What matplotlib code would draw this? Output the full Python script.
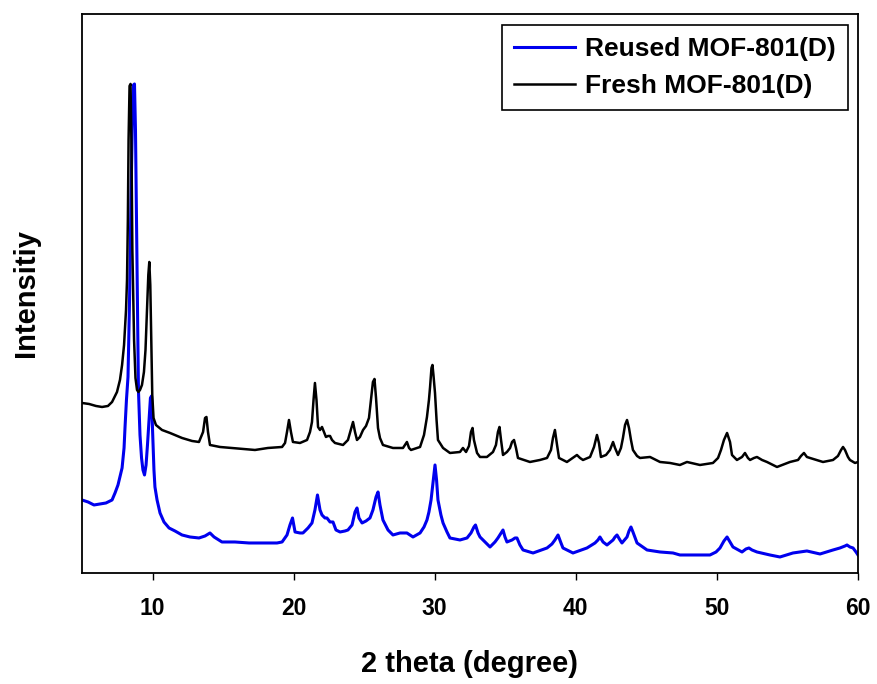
import matplotlib
matplotlib.use("Agg")
import matplotlib.pyplot as plt

plt.rcParams['font.family'] = ['Liberation Sans', 'DejaVu Sans']
plt.rcParams['font.weight'] = 'bold'

# Fresh MOF-801(D): 2-theta (degree) and stacked intensity (a.u.)
fresh_2theta = [5.00, 5.50, 5.99, 6.42, 6.84, 7.13, 7.48, 7.69, 7.84, 7.98, 8.12, 8.19, 8.25, 8.30,
                8.37, 8.44, 8.50, 8.57, 8.69, 8.79, 8.90, 9.00, 9.11, 9.25, 9.39, 9.50, 9.61, 9.70,
                9.77, 9.84, 9.91, 9.98, 10.07, 10.24, 10.67, 11.24, 12.09, 12.80, 13.29, 13.58,
                13.72, 13.82, 13.93, 14.07, 14.78, 15.63, 16.55, 17.26, 18.18, 19.18, 19.39, 19.53,
                19.67, 19.81, 19.95, 20.45, 20.95, 21.16, 21.30, 21.41, 21.51, 21.62, 21.73, 21.87,
                22.01, 22.15, 22.29, 22.44, 22.58, 22.72, 22.93, 23.50, 23.85, 23.99, 24.21, 24.35,
                24.49, 24.70, 24.92, 25.13, 25.34, 25.48, 25.62, 25.73, 25.84, 25.98, 26.12, 26.33,
                27.04, 27.75, 27.89, 28.03, 28.18, 28.32, 28.96, 29.24, 29.45, 29.59, 29.67, 29.77,
                29.84, 29.91, 30.02, 30.13, 30.23, 30.59, 31.08, 31.79, 32.00, 32.22, 32.43, 32.57,
                32.68, 32.78, 33.00, 33.21, 33.70, 34.13, 34.34, 34.48, 34.59, 34.70, 34.84, 35.12,
                35.34, 35.48, 35.62, 35.76, 35.90, 36.75, 37.46, 37.96, 38.24, 38.38, 38.52, 38.67,
                38.81, 39.37, 39.87, 40.08, 40.30, 40.51, 41.01, 41.29, 41.50, 41.64, 41.78, 42.14,
                42.42, 42.64, 42.78, 42.99, 43.20, 43.34, 43.49, 43.63, 43.77, 43.91, 44.05, 44.34,
                44.55, 45.26, 45.97, 46.68, 47.38, 47.88, 48.80, 49.72, 50.08, 50.29, 50.50, 50.72,
                50.93, 51.07, 51.42, 51.78, 51.99, 52.20, 52.35, 52.63, 52.84, 53.20, 53.55, 54.26,
                55.18, 55.75, 55.96, 56.17, 56.38, 56.60, 57.52, 58.23, 58.58, 58.80, 58.94, 59.08,
                59.29, 59.43, 59.79, 60.00]
fresh_intensity = [170, 169, 167, 166, 167, 171, 181, 193, 208, 228, 263, 293, 353, 433,
                   487, 489, 433, 323, 233, 195, 183, 181, 183, 188, 201, 223, 263, 298,
                   311, 288, 233, 178, 155, 148, 143, 140, 135, 132, 131, 141,
                   155, 156, 141, 128, 126, 125, 124, 123, 125, 126, 130, 141,
                   153, 141, 131, 130, 133, 141, 151, 173, 190, 173, 146, 143,
                   146, 141, 136, 137, 137, 133, 130, 128, 133, 140, 151, 141,
                   133, 136, 143, 147, 155, 173, 191, 194, 175, 145, 135, 128,
                   125, 125, 128, 131, 125, 123, 126, 138, 156, 173, 186, 205,
                   208, 198, 180, 153, 133, 125, 120, 121, 125, 121, 127, 141,
                   145, 133, 120, 116, 116, 121, 128, 141, 146, 133, 118, 121,
                   125, 131, 133, 125, 115, 111, 113, 115, 123, 135, 143, 128,
                   115, 111, 116, 118, 115, 113, 116, 126, 138, 130, 116, 118,
                   123, 131, 125, 118, 125, 135, 148, 153, 145, 133, 123, 117,
                   115, 116, 111, 110, 108, 111, 108, 110, 115, 123, 133, 140,
                   131, 118, 113, 116, 120, 115, 113, 115, 116, 113, 111, 106,
                   111, 113, 117, 120, 116, 115, 111, 113, 117, 123, 126, 123,
                   116, 113, 110, 111]

# Reused MOF-801(D): 2-theta (degree) and intensity (a.u.)
reused_2theta = [5.00, 5.43, 5.85, 6.28, 6.70, 7.13, 7.34, 7.55, 7.69, 7.84, 7.98, 8.05, 8.15, 8.26,
                 8.37, 8.47, 8.57, 8.65, 8.72, 8.79, 8.86, 8.93, 9.00, 9.11, 9.22, 9.32, 9.43, 9.54,
                 9.64, 9.75, 9.85, 9.93, 10.00, 10.10, 10.17, 10.32, 10.53, 10.81, 11.17, 11.59,
                 12.09, 12.65, 13.29, 13.72, 14.07, 14.36, 14.92, 15.84, 16.84, 17.62, 18.32, 18.82,
                 19.18, 19.53, 19.74, 19.92, 20.10, 20.45, 20.66, 21.02, 21.30, 21.51, 21.69, 21.87,
                 22.01, 22.22, 22.36, 22.58, 22.79, 23.00, 23.29, 23.64, 23.85, 24.14, 24.35, 24.49,
                 24.63, 24.85, 25.13, 25.41, 25.62, 25.84, 25.98, 26.12, 26.33, 26.69, 27.04, 27.54,
                 28.03, 28.46, 28.96, 29.24, 29.45, 29.59, 29.74, 29.88, 30.02, 30.13, 30.23, 30.44,
                 30.59, 30.87, 31.08, 31.79, 32.29, 32.57, 32.78, 32.89, 33.07, 33.21, 33.56, 33.92,
                 34.27, 34.48, 34.70, 34.84, 34.98, 35.12, 35.48, 35.69, 35.83, 36.04, 36.26, 36.97,
                 37.96, 38.31, 38.52, 38.74, 38.95, 39.09, 39.80, 40.79, 41.36, 41.57, 41.71, 41.93,
                 42.21, 42.64, 42.78, 42.92, 43.13, 43.27, 43.63, 43.77, 43.91, 44.05, 44.34, 45.05,
                 45.97, 46.89, 47.38, 48.09, 49.51, 49.94, 50.22, 50.50, 50.72, 50.93, 51.14, 51.78,
                 52.06, 52.27, 52.49, 52.84, 53.76, 54.47, 55.39, 56.38, 57.31, 58.23, 58.72, 59.08,
                 59.22, 59.43, 59.65, 59.86, 60.00]
reused_intensity = [73, 71, 68, 69, 70, 73, 80, 88, 96, 105, 125, 146, 173, 196,
                    273, 373, 453, 488, 489, 443, 353, 253, 183, 138, 115, 103, 98, 108,
                    128, 153, 175, 177, 143, 103, 86, 73, 60, 51, 45, 42,
                    38, 36, 35, 37, 40, 36, 31, 31, 30, 30, 30, 30,
                    31, 38, 48, 55, 41, 40, 40, 45, 50, 63, 78, 63,
                    58, 55, 55, 51, 51, 43, 41, 42, 43, 48, 61, 65,
                    55, 50, 52, 55, 63, 76, 81, 68, 53, 43, 38, 40,
                    40, 36, 40, 46, 53, 61, 73, 91, 108, 93, 73, 58,
                    50, 41, 35, 33, 35, 40, 46, 48, 40, 36, 31, 26,
                    31, 35, 40, 43, 36, 31, 33, 35, 35, 28, 23, 20,
                    25, 29, 33, 38, 30, 25, 20, 25, 30, 33, 36, 31,
                    28, 33, 36, 38, 33, 30, 36, 42, 46, 41, 30, 23,
                    21, 20, 18, 18, 18, 21, 25, 32, 36, 31, 26, 21,
                    24, 25, 23, 21, 18, 16, 20, 22, 19, 23, 25, 27,
                    28, 26, 25, 21, 18]

x_ticks = [10, 20, 30, 40, 50, 60]

fig = plt.figure(figsize=(8.78, 6.84), dpi=100)
ax = fig.add_axes([0.0934, 0.1623, 0.8838, 0.8173])

ax.plot(reused_2theta, reused_intensity, color='#0000ee', lw=2.2, label='Reused MOF-801(D)')
ax.plot(fresh_2theta, fresh_intensity, color='black', lw=1.8, label='Fresh MOF-801(D)')

ax.set_xlim(5, 60)
ax.set_ylim(0, 559)
ax.set_xticks(x_ticks)
ax.set_yticks([])
ax.tick_params(axis='x', direction='out', length=5, width=1.0, pad=12, labelsize=16.5, top=False)
for lbl in ax.get_xticklabels():
    lbl.set_fontweight('bold')
for sp in ax.spines.values():
    sp.set_linewidth(1.3)

ax.set_xlabel('2 theta (degree)', fontsize=21, fontweight='bold', labelpad=22)
ax.set_ylabel('Intensitiy', fontsize=21, fontweight='bold', labelpad=30)

leg = ax.legend(loc='upper right', bbox_to_anchor=(0.987, 0.980), fontsize=19,
                frameon=True, fancybox=False, edgecolor='black', framealpha=1,
                borderaxespad=0, borderpad=0.45, handlelength=2.3, handletextpad=0.4,
                labelspacing=0.5)
leg.get_frame().set_linewidth(1.2)
for t in leg.get_texts():
    t.set_fontweight('bold')

fig.savefig('out.png', dpi=100)
